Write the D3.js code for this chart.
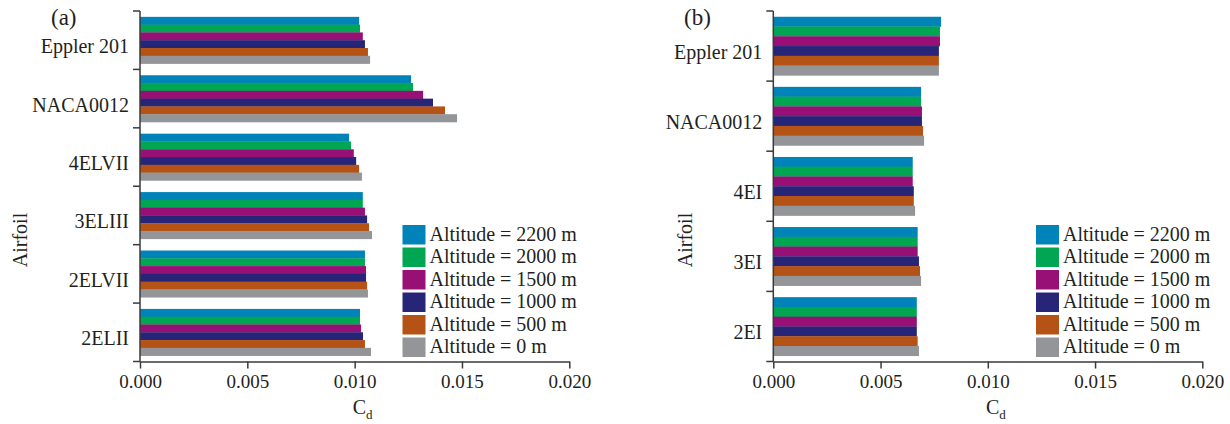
<!DOCTYPE html>
<html>
<head>
<meta charset="utf-8">
<script src="https://cdn.jsdelivr.net/npm/d3@7"></script>
<style>
  body { margin: 0; background: #fff; }
  svg { display: block; font-family: "Liberation Serif", "DejaVu Serif", serif; }
</style>
</head>
<body>
<svg id="chart" width="1230" height="424"></svg>
<script>
// legend / series names, top bar to bottom bar inside each group
const altitudes = ["Altitude = 2200 m", "Altitude = 2000 m", "Altitude = 1500 m",
                   "Altitude = 1000 m", "Altitude = 500 m", "Altitude = 0 m"];
const colors = ["#0083b9", "#00a651", "#980f76", "#262578", "#b55216", "#939598"];

const xTicks = [0, 0.005, 0.010, 0.015, 0.020];

// panel (a)
const airfoilsA = ["Eppler 201", "NACA0012", "4ELVII", "3ELIII", "2ELVII", "2ELII"];
const cdA2200 = [0.01021, 0.01263, 0.00974, 0.01038, 0.01048, 0.01025];
const cdA2000 = [0.01025, 0.01272, 0.00983, 0.01038, 0.01048, 0.01025];
const cdA1500 = [0.01038, 0.01319, 0.00996, 0.01048, 0.01053, 0.01030];
const cdA1000 = [0.01048, 0.01365, 0.01007, 0.01058, 0.01053, 0.01039];
const cdA500  = [0.01062, 0.01421, 0.01021, 0.01067, 0.01058, 0.01048];
const cdA0    = [0.01072, 0.01477, 0.01034, 0.01081, 0.01062, 0.01076];

// panel (b)
const airfoilsB = ["Eppler 201", "NACA0012", "4EI", "3EI", "2EI"];
const cdB2200 = [0.00782, 0.00689, 0.00650, 0.00673, 0.00669];
const cdB2000 = [0.00777, 0.00689, 0.00650, 0.00673, 0.00669];
const cdB1500 = [0.00777, 0.00693, 0.00650, 0.00673, 0.00669];
const cdB1000 = [0.00772, 0.00693, 0.00655, 0.00679, 0.00669];
const cdB500  = [0.00772, 0.00698, 0.00655, 0.00684, 0.00673];
const cdB0    = [0.00772, 0.00703, 0.00661, 0.00689, 0.00679];

const svg = d3.select("#chart");
const axisColor = "#3a3a3a";
const textColor = "#231f20";

function drawPanel(opt) {
  const series = opt.series;
  const x = d3.scaleLinear().domain([0, 0.02]).range([opt.x0, opt.x1]);
  const y = d3.scaleBand().domain(opt.cats).range([opt.y0, opt.y1])
    .paddingInner(opt.pad * 2).paddingOuter(opt.pad);
  const yIn = d3.scaleBand().domain(d3.range(series.length)).range([0, y.bandwidth()]);
  const step = y.step();

  const g = svg.append("g");

  // bars
  series.forEach((vals, si) => {
    g.append("g").selectAll("rect")
      .data(vals)
      .join("rect")
      .attr("x", x(0))
      .attr("y", (d, i) => y(opt.cats[i]) + yIn(si))
      .attr("height", yIn.bandwidth() + 0.3)
      .attr("width", d => x(d) - x(0))
      .attr("fill", colors[si]);
  });

  // x axis
  const xa = g.append("g")
    .attr("transform", `translate(0,${opt.y1})`)
    .call(d3.axisBottom(x).tickValues(xTicks).tickFormat(d3.format(".3f"))
      .tickSize(7).tickSizeOuter(0).tickPadding(6));
  xa.select(".domain").attr("stroke", axisColor).attr("stroke-width", 1.5);
  xa.selectAll(".tick line").attr("stroke", axisColor).attr("stroke-width", 1.5);
  xa.selectAll(".tick text").attr("fill", textColor)
    .attr("font-family", "Liberation Serif").attr("font-size", 19);

  // y axis line + group boundary ticks
  g.append("line")
    .attr("x1", x(0)).attr("x2", x(0))
    .attr("y1", opt.y0).attr("y2", opt.y1)
    .attr("stroke", axisColor).attr("stroke-width", 1.5);
  const bounds = opt.cats.map(c => y(c) - step * opt.pad).concat([opt.y1]);
  g.append("g").selectAll("line")
    .data(bounds)
    .join("line")
    .attr("x1", x(0) - 7).attr("x2", x(0))
    .attr("y1", d => d).attr("y2", d => d)
    .attr("stroke", axisColor).attr("stroke-width", 1.5);

  // category labels
  g.append("g").selectAll("text")
    .data(opt.cats)
    .join("text")
    .attr("x", x(0) - 11)
    .attr("y", d => y(d) + y.bandwidth() / 2 + 13)
    .attr("text-anchor", "end")
    .attr("font-size", 20)
    .attr("fill", textColor)
    .text(d => d);

  // axis titles
  g.append("text")
    .attr("transform", `translate(${opt.yTitleX},240) rotate(-90)`)
    .attr("text-anchor", "middle")
    .attr("font-size", 20).attr("fill", textColor)
    .text("Airfoil");

  const cd = g.append("text")
    .attr("x", (opt.x0 + opt.x1) / 2 + 8)
    .attr("y", 414)
    .attr("text-anchor", "middle")
    .attr("font-size", 20).attr("fill", textColor);
  cd.append("tspan").text("C");
  cd.append("tspan").attr("font-size", 13).attr("dy", 5).text("d");

  g.append("text")
    .attr("x", opt.tagX).attr("y", 25)
    .attr("font-size", 23).attr("fill", textColor)
    .text(opt.tag);

  // legend
  const lg = g.append("g").attr("transform", `translate(${opt.legX},225)`);
  const rows = lg.selectAll("g")
    .data(altitudes)
    .join("g")
    .attr("transform", (d, i) => `translate(0,${i * 22.5})`);
  rows.append("rect")
    .attr("width", 23).attr("height", 19.5)
    .attr("fill", (d, i) => colors[i]);
  rows.append("text")
    .attr("x", 27).attr("y", 15.5)
    .attr("font-size", 20).attr("fill", textColor)
    .text(d => d);
}

drawPanel({
  cats: airfoilsA,
  series: [cdA2200, cdA2000, cdA1500, cdA1000, cdA500, cdA0],
  x0: 140, x1: 569.3, y0: 11, y1: 361.5, pad: 0.1,
  yTitleX: 27, tagX: 51, tag: "(a)", legX: 402.5
});

drawPanel({
  cats: airfoilsB,
  series: [cdB2200, cdB2000, cdB1500, cdB1000, cdB500, cdB0],
  x0: 773.3, x1: 1202.3, y0: 11, y1: 361.5, pad: 0.082,
  yTitleX: 692, tagX: 684, tag: "(b)", legX: 1036
});
</script>
</body>
</html>
